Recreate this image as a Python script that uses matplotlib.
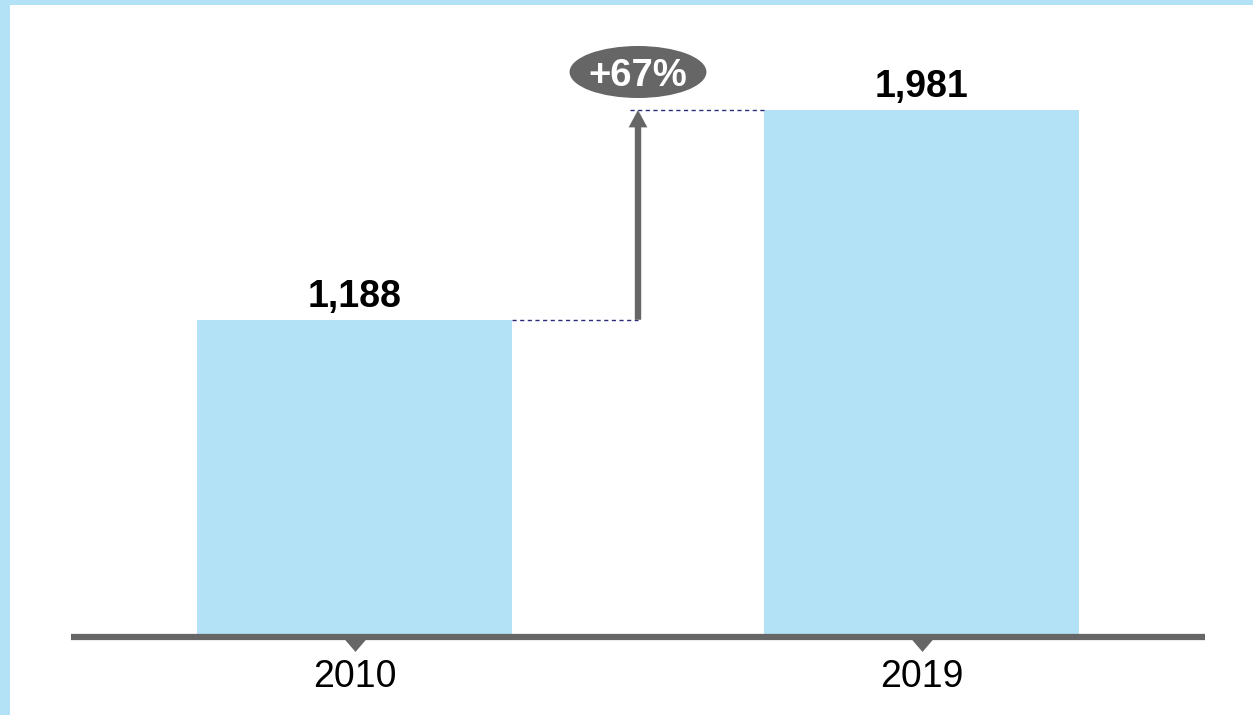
import matplotlib
matplotlib.use("Agg")
import matplotlib.pyplot as plt
from matplotlib.patches import Ellipse, Rectangle
from matplotlib.transforms import offset_copy

# Данные
years = ["2010", "2019"]
values = [1188, 1981]
growth = round((values[1] / values[0] - 1) * 100)

bar_color = "#B3E1F5"
gray = "#666666"
dash_color = "#2B2B7A"

W, H = 1253, 715
PX = 0.2645  # пикселей на единицу
fig = plt.figure(figsize=(W / 100, H / 100), dpi=100)
fig.patch.set_facecolor(bar_color)
# белое поле, голубая рамка только сверху и слева
fig.patches.append(Rectangle((10 / W, 0), 1, (H - 5) / H, transform=fig.transFigure,
                             facecolor="white", edgecolor="none", zorder=-10))

# y=0 -> пиксель 634
ax = fig.add_axes([71 / W, (H - 634) / H, (1205 - 71) / W, (634 - 5) / H])
ax.set_facecolor("none")
ax.set_xlim(-0.5, 1.5)
ax.set_ylim(0, (634 - 5) / PX)

x = list(range(len(years)))
width = 0.555
ax.bar(x, values, width=width, color=bar_color, zorder=1)

for xi, v in zip(x, values):
    ax.text(xi, v + 18, f"{v:,}", ha="center", va="bottom", fontsize=27,
            fontweight="bold", family="Liberation Sans", color="black")

# ось
for s in ["top", "right", "left"]:
    ax.spines[s].set_visible(False)
sp = ax.spines["bottom"]
sp.set_color(gray)
sp.set_linewidth(4.5)
sp.set_capstyle("butt")
sp.set_position(("outward", 2.5))
sp.set_zorder(3)
ax.set_yticks([])
ax.set_xticks(x)
ax.set_xticklabels(years, fontsize=27, family="Liberation Sans", color="black")
ax.tick_params(axis="x", length=0, pad=15.5)

# треугольные засечки
tri = offset_copy(ax.transData, fig=fig, x=0, y=-3.5, units="dots")
ax.plot(x, [0] * len(x), linestyle="none", marker=[(-1, 0), (1, 0), (0, -1.17)],
        markersize=19.4, color=gray, markeredgewidth=0, transform=tri,
        clip_on=False, zorder=3)

# пунктир и стрелка
mid = (x[0] + x[1]) / 2
ax.plot([x[0] + width / 2, mid], [values[0], values[0]], linestyle=(0, (3, 2.5)),
        color=dash_color, linewidth=1, zorder=2)
ax.plot([mid - 0.014, x[1] - width / 2], [values[1], values[1]], linestyle=(0, (3, 2.5)),
        color=dash_color, linewidth=1, zorder=2)
ax.annotate("", xy=(mid, values[1]), xytext=(mid, values[0]),
            arrowprops=dict(width=4.6, headwidth=13.5, headlength=12.5, shrink=0,
                            facecolor=gray, edgecolor="none", lw=0), zorder=2)

# эллипс с приростом
ey = (634 - 72) / PX
ax.add_patch(Ellipse((mid, ey), 137 / 567.5, 52 / PX, facecolor=gray,
                     edgecolor="none", clip_on=False, zorder=4))
ax.text(mid, ey, f"+{growth}%", ha="center", va="center_baseline", fontsize=27.5,
        fontweight="bold", family="Liberation Sans", color="white", zorder=5)

fig.savefig("out.png", dpi=100)
